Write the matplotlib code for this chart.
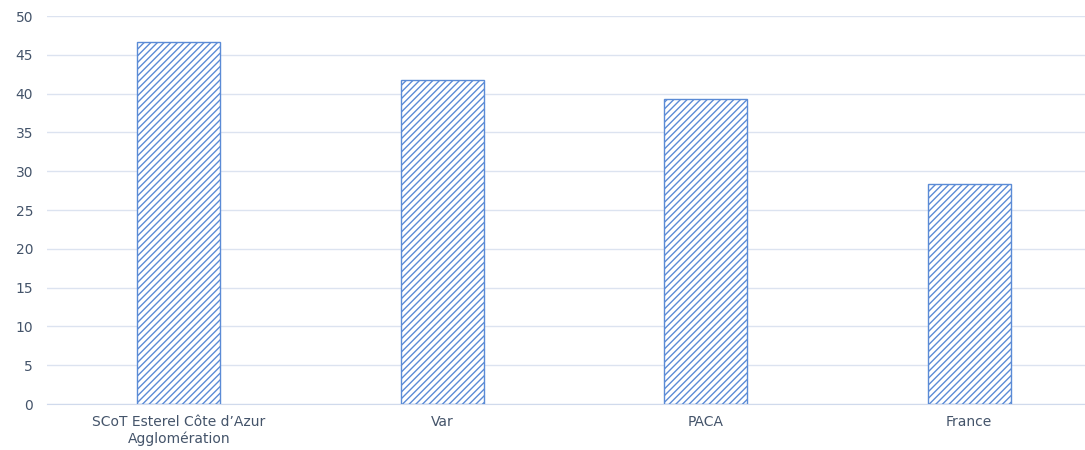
import matplotlib
matplotlib.use("Agg")
import matplotlib.pyplot as plt

# Data
categories = ["SCoT Esterel Côte d\u2019Azur\nAgglomération", "Var", "PACA", "France"]
values = [46.7, 41.7, 39.3, 28.4]
yticks = [0, 5, 10, 15, 20, 25, 30, 35, 40, 45, 50]

plt.rcParams["font.family"] = ["DejaVu Sans"]
plt.rcParams["hatch.linewidth"] = 1.0
plt.rcParams["hatch.color"] = "#5B90DC"

fig = plt.figure(figsize=(10.85, 4.5), dpi=100)
ax = fig.add_axes([47 / 1085, 46 / 450, 1038 / 1085, 388 / 450])

ax.bar(
    range(len(categories)),
    values,
    width=0.315,
    color="white",
    edgecolor="#5B8BD6",
    linewidth=1.0,
    hatch="/////",
    zorder=3
)

ax.set_xlim(-0.5, 3.44)
ax.set_ylim(0, 50)
ax.set_yticks(yticks)
ax.set_xticks(range(len(categories)))
ax.set_xticklabels(categories)

ax.grid(axis="y", color="#DCE3F0", linewidth=1.0, zorder=0)
for s in ["top", "right", "left"]:
    ax.spines[s].set_visible(False)
ax.spines["bottom"].set_color("#D0DAEC")
ax.tick_params(axis="both", length=0, labelsize=10, colors="#44546A")
ax.tick_params(axis="y", pad=10)
ax.tick_params(axis="x", pad=8)

fig.savefig("out.png", dpi=100)
